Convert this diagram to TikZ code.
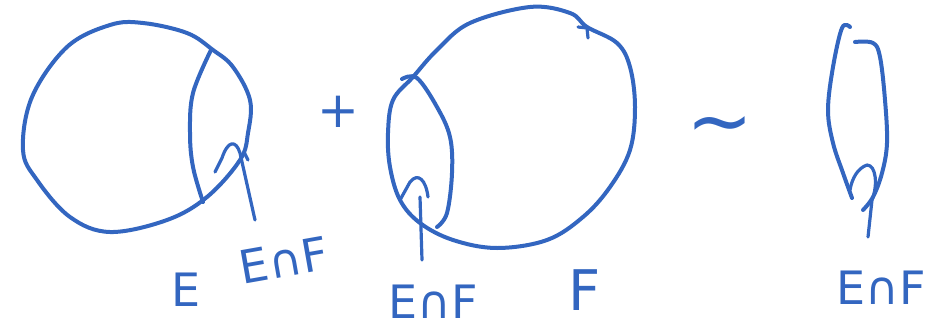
\documentclass[tikz,border=0pt]{standalone}
\usepackage{fontspec}
\setmainfont{DejaVu Sans}
\definecolor{ink}{RGB}{51,102,192}
\begin{document}
\begin{tikzpicture}[x=1pt,y=-1pt,
  pen/.style={draw=ink,line width=4pt,line cap=round,line join=round},
  thin pen/.style={draw=ink,line width=3.2pt,line cap=round,line join=round},
  lbl/.style={text=ink,font=\fontsize{46}{50}\selectfont,inner sep=0pt},
  sym/.style={text=ink,font=\fontsize{50}{54}\selectfont,inner sep=0pt}]
\useasboundingbox (0,0) rectangle (947,332);
% circle E
\draw[pen] plot[smooth cycle,tension=0.6] coordinates {(23,150) (32,97) (67,47) (110,25) (143,23) (187,33) (213,50) (233,67) (250,100) (248,133) (240,160) (207,197) (167,220) (110,232) (70,217) (37,180)};
\draw[pen] plot[smooth,tension=0.6] coordinates {(211,50) (193,93) (190,133) (193,167) (203,202)};
% hook E
\coordinate (hE) at (255,220);
\draw[thin pen] (hE) -- (240,153) .. controls (236,140) and (228,140) .. (222,158) -- (215,172);
\draw[thin pen] (244,152) -- (248,160);
% circle F
\draw[pen] plot[smooth cycle,tension=0.6] coordinates {(388,133) (393,100) (413,77) (437,50) (470,23) (530,7) (570,13) (587,27) (617,43) (630,67) (635,107) (630,150) (610,187) (583,217) (547,240) (497,248) (453,240) (420,223) (400,200) (390,167)};
\draw[pen] plot[smooth,tension=0.6] coordinates {(402,79) (417,78) (437,107) (450,137) (452,173) (447,213) (437,227)};
\draw[thin pen] (578,27) -- (587,28) -- (588,38);
% hook F
\coordinate (hF) at (422,260);
\draw[thin pen] (hF) -- (420,197);
\draw[thin pen] (428,197) .. controls (426,180) and (418,172) .. (410,182) -- (400,200);
% thin ellipse
\draw[pen] plot[smooth,tension=0.6] coordinates {(850,27) (842,28) (833,67) (828,110) (833,143) (843,173) (852,198)};
\draw[pen] plot[smooth,tension=0.6] coordinates {(855,42) (873,43) (880,57) (885,100) (887,143) (882,173) (873,197) (863,210)};
\coordinate (hT) at (868,237);
\draw[thin pen] (hT) -- (872,200) .. controls (878,185) and (876,165) .. (867,165) .. controls (858,168) and (852,178) .. (850,190);
% operators
\node[sym] (plus) at (338,112) {+};
\node[sym,font=\fontsize{80}{84}\selectfont] (tilde) at (720,133) {\char"007E};
% labels
\node[lbl] (lE) at (186,290) {E};
\node[lbl,rotate=10] (lEF1) at (284,260) {E∩F};
\node[lbl] (lEF2) at (433,302) {E∩F};
\node[lbl,font=\fontsize{56}{60}\selectfont] (lF) at (585,290) {F};
\node[lbl] (lEF3) at (881,288) {E∩F};
\end{tikzpicture}
\end{document}
